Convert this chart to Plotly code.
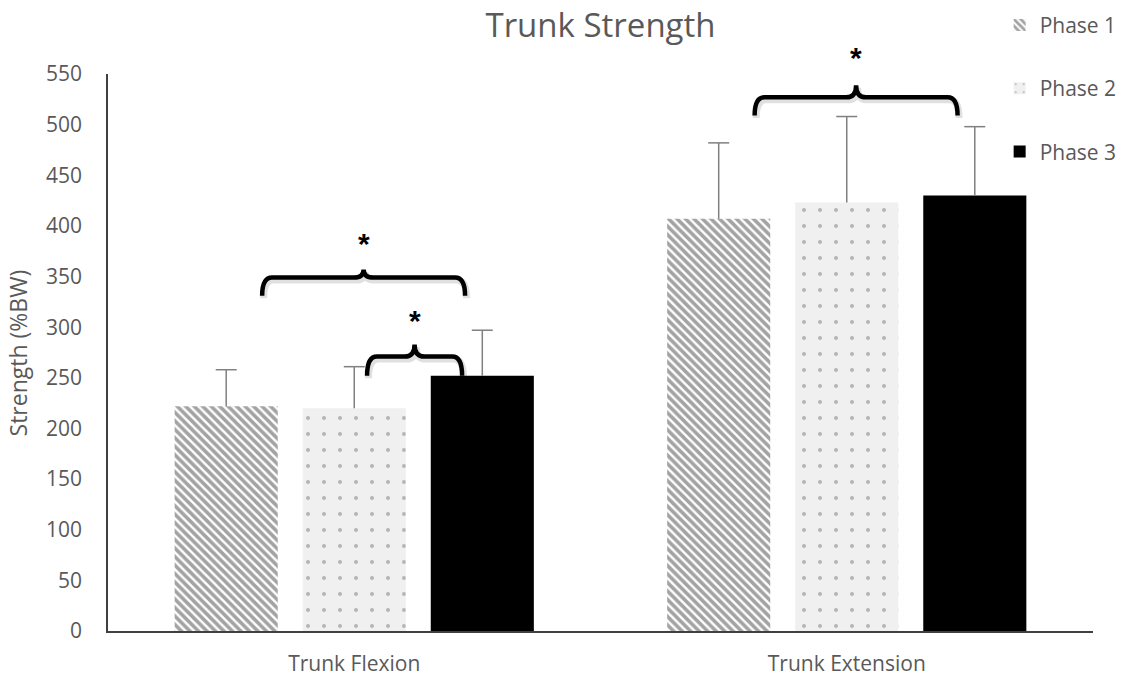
import plotly.graph_objects as go

# Trunk strength by phase, % body weight (mean with upper SD bar)
categories = ["Trunk Flexion", "Trunk Extension"]
phases = ["Phase 1", "Phase 2", "Phase 3"]
phase1 = [222, 407]
phase2 = [220, 423]
phase3 = [252, 430]
phase1_sd = [36, 75]
phase2_sd = [41, 85]
phase3_sd = [45, 68]
y_ticks = list(range(0, 551, 50))

# Significance brackets: (category index, from phase, to phase, bracket height, label height)
brackets = [
    (0, 0, 2, 349, 387),
    (0, 1, 2, 271, 311),
    (1, 0, 2, 527, 570),
]

TEXT = "#595959"
FONT = "'Open Sans', sans-serif"
BARGAP = 0.22
SLOT = (1 - BARGAP) / 3
Y_MAX = 550

x_pos = list(range(len(categories)))


def bar_x(cat, phase):
    return cat + (phase - 1) * SLOT


fig = go.Figure()

styles = [
    dict(color="white", pattern=dict(shape="\\", fgcolor="#484848", bgcolor="white",
                                     size=6, solidity=0.6, fillmode="overlay")),
    dict(color="#f0f0f0", pattern=dict(shape=".", fgcolor="#7a7a7a", bgcolor="#f0f0f0",
                                       size=16, solidity=0.05, fillmode="overlay")),
    dict(color="black"),
]
series = [phase1, phase2, phase3]
sds = [phase1_sd, phase2_sd, phase3_sd]

for name, vals, sd, st in zip(phases, series, sds, styles):
    fig.add_trace(go.Bar(
        x=x_pos, y=vals, name=name, legendgroup=name,
        marker=dict(line=dict(width=0), **st),
        error_y=dict(type="data", symmetric=False, array=sd,
                     arrayminus=[0] * len(sd), color="#808080",
                     thickness=1.5, width=0),
    ))

# caps on the upper end of each SD bar
cap_x, cap_y = [], []
for p, (vals, sd) in enumerate(zip(series, sds)):
    for c in x_pos:
        cap_x.append(bar_x(c, p))
        cap_y.append(vals[c] + sd[c])
fig.add_trace(go.Scatter(
    x=cap_x, y=cap_y, mode="markers", showlegend=False, hoverinfo="skip",
    marker=dict(symbol="line-ew", size=15, line=dict(color="#808080", width=1.5)),
))


def brace(x0, x1, yh, depth, tip):
    """Curly brace path opening downwards, in data units."""
    xc = (x0 + x1) / 2
    dx = 0.02
    return (f"M{x0},{yh - depth} Q{x0},{yh} {x0 + dx},{yh} "
            f"L{xc - dx},{yh} Q{xc},{yh} {xc},{yh + tip} "
            f"Q{xc},{yh} {xc + dx},{yh} "
            f"L{x1 - dx},{yh} Q{x1},{yh} {x1},{yh - depth}")


for cat, p0, p1, yh, ys in brackets:
    if p1 - p0 == 2:
        x0 = bar_x(cat, p0) + 0.073
        x1 = bar_x(cat, p1) - 0.035
    else:
        x0 = bar_x(cat, p0) + 0.026
        x1 = bar_x(cat, p1) - 0.041
    depth = 18 if p1 - p0 == 2 else 19
    tip = 8 if cat == 0 and p1 - p0 == 2 else 12
    # soft shadow under the brace
    fig.add_shape(type="path", path=brace(x0 + 0.003, x1 + 0.003, yh - 2.5, depth, tip),
                  line=dict(color="rgba(0,0,0,0.12)", width=7), layer="above")
    fig.add_shape(type="path", path=brace(x0, x1, yh, depth, tip),
                  line=dict(color="black", width=4.5), layer="above")
    fig.add_annotation(x=(x0 + x1) / 2, xref="x", y=ys / Y_MAX, yref="paper",
                       text="<b>*</b>", showarrow=False,
                       font=dict(size=30, color="black", family="Liberation Sans"),
                       yanchor="middle", yshift=-4)

# vertical axis title
fig.add_annotation(text="Strength (%BW)", textangle=-90, showarrow=False,
                   xref="paper", x=-0.0914, xanchor="center",
                   yref="paper", y=0.5, yanchor="middle",
                   font=dict(size=23, color=TEXT, family=FONT))

fig.update_layout(
    width=1127, height=681,
    margin=dict(l=108, r=34, t=74, b=50, autoexpand=False),
    paper_bgcolor="white", plot_bgcolor="white",
    barmode="group", bargap=BARGAP, bargroupgap=0.195,
    font=dict(family=FONT, color=TEXT, size=20),
    title=dict(text="Trunk Strength", x=0.5, xref="paper", xanchor="center",
               y=0.963, yref="container", yanchor="middle",
               font=dict(size=33, color=TEXT, family=FONT)),
    legend=dict(x=0.887, xref="container", xanchor="left",
                y=0.993, yref="container", yanchor="top",
                font=dict(size=21, color=TEXT), tracegroupgap=33,
                itemwidth=30, bgcolor="rgba(0,0,0,0)"),
    showlegend=True,
)
fig.update_xaxes(range=[-0.5, 1.5], tickvals=x_pos, ticktext=categories,
                 showgrid=False, zeroline=False, showline=True, automargin=False,
                 linecolor="#404040", linewidth=1.5, ticks="",
                 ticklabelstandoff=13, tickfont=dict(size=21, color=TEXT))
fig.update_yaxes(range=[0, Y_MAX], tickvals=y_ticks, showgrid=False, zeroline=False,
                 showline=True, linecolor="#404040", linewidth=1.5, ticks="",
                 automargin=False,
                 ticklabelstandoff=20, tickfont=dict(size=21, color=TEXT))

fig.write_html("out.html")
